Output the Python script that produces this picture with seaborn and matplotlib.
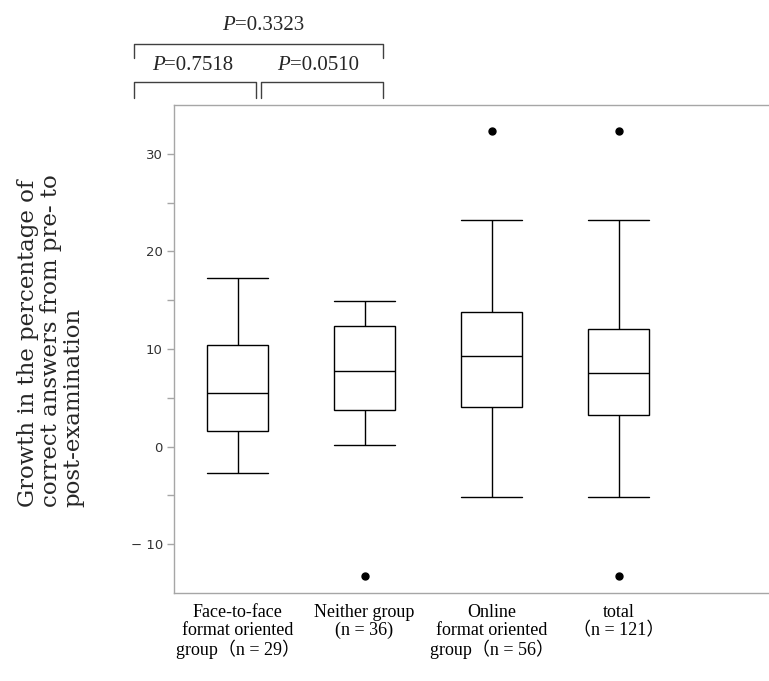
import matplotlib
matplotlib.use("Agg")
import matplotlib.pyplot as plt
import seaborn as sns
import pandas as pd

groups = ["Face-to-face", "Neither", "Online", "total"]
tick_labels = ["Face-to-face\nformat oriented\ngroup（n = 29）",
               "Neither group\n(n = 36)",
               "Online\nformat oriented\ngroup（n = 56）",
               "total\n（n = 121）"]
whisker_low = [-2.7, 0.2, -5.2, -5.2]
q1 = [1.6, 3.75, 4.1, 3.25]
median = [5.45, 7.75, 9.25, 7.55]
q3 = [10.4, 12.4, 13.8, 12.1]
whisker_high = [17.25, 14.9, 23.2, 23.2]
outliers = [[], [-13.3], [32.35], [32.35, -13.3]]
p_values = ["0.3323", "0.7518", "0.0510"]

# expand each summary into a sample whose boxplot statistics reproduce it
rows = []
for i, g in enumerate(groups):
    vals = [whisker_low[i], whisker_high[i]] + outliers[i]
    vals += [q1[i]] * 10 + [median[i]] * 10 + [q3[i]] * 10
    rows += [(g, v) for v in vals]
df = pd.DataFrame(rows, columns=["group", "growth"])

sns.set_style("white")
fig = plt.figure(figsize=(7.69, 6.81), dpi=100)
ax = fig.add_axes([174 / 769, 1 - 593 / 681, 1 - 174 / 769, (593 - 105) / 681])

sns.boxplot(data=df, x="group", y="growth", order=groups, ax=ax, width=0.48,
            color="white", linecolor="black", linewidth=1.0, capwidths=0.48,
            flierprops=dict(marker="o", markerfacecolor="black", markeredgecolor="black",
                            markersize=5))
for p in ax.patches:
    p.set_facecolor("white")

ax.set_ylim(-15, 35)
ax.set_xlim(-0.5, 4.185)
ax.set_yticks([-10, 0, 10, 20, 30])
ax.set_yticklabels(["\u2212 10", "0", "10", "20", "30"])
ax.set_yticks([-5, 5, 15, 25], minor=True)
ax.tick_params(axis="y", which="both", direction="out", length=5, width=1,
               color="#a6a6a6", left=True, labelsize=9.5, labelcolor="#333333", pad=3)
ax.tick_params(axis="x", length=0, pad=8)
ax.set_xticks(range(len(groups)))
ax.set_xticklabels(tick_labels, family=["Liberation Serif", "Noto Sans CJK JP"],
                   fontsize=13, color="black", linespacing=1.05)
ax.set_xlabel("")
ax.set_ylabel("")
for s in ["left", "top", "bottom"]:
    ax.spines[s].set_color("#a6a6a6")
    ax.spines[s].set_linewidth(1)
ax.spines["right"].set_visible(False)

fig.text(51 / 769, 1 - 341 / 681,
         "Growth in the percentage of\ncorrect answers from pre- to\npost-examination",
         rotation=90, ha="center", va="center", multialignment="left",
         family="DejaVu Serif", fontsize=16.5, linespacing=1.05)

# significance brackets
bk = dict(color="#404040", lw=1, clip_on=False)
ax.plot([-0.817, -0.817, 1.144, 1.144], [39.8, 41.25, 41.25, 39.8], **bk)
ax.plot([-0.817, -0.817, 0.144, 0.144], [35.7, 37.36, 37.36, 35.7], **bk)
ax.plot([0.183, 0.183, 1.144, 1.144], [35.7, 37.36, 37.36, 35.7], **bk)

for xs, ys, val in zip([-0.02, -0.575, 0.41], [43.1, 39.0, 39.0], p_values):
    ax.text(xs, ys, "P", ha="right", va="center", fontsize=15, style="italic",
            family="Liberation Serif", clip_on=False)
    ax.text(xs, ys, "=" + val, ha="left", va="center", fontsize=15,
            family="Liberation Serif", clip_on=False)

fig.savefig("out.png", dpi=100)
